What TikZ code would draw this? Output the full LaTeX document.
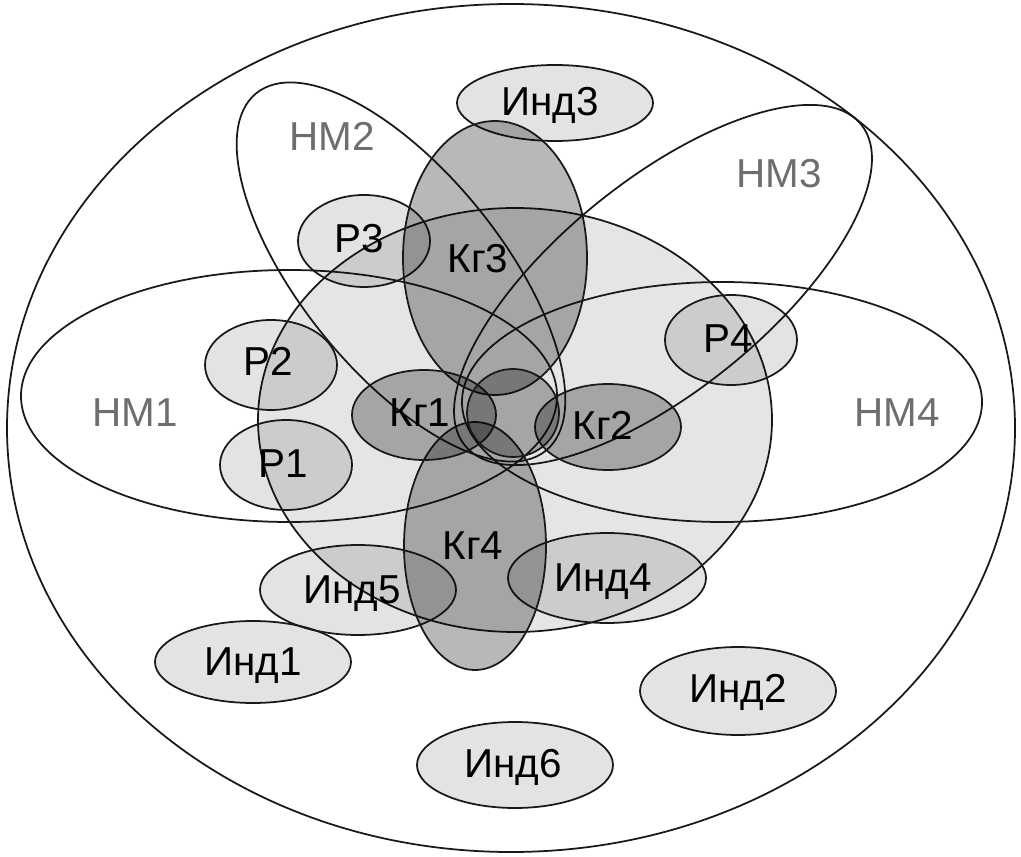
\documentclass[tikz,border=0pt]{standalone}
\usepackage{fontspec}
\newfontfamily\setfont{Liberation Sans}
\begin{document}
\begin{tikzpicture}[x=0.02cm, y=-0.02cm,
    rim/.style={draw=black!90, line width=1pt},
    pale/.style={rim, fill=black, fill opacity=0.11},
    deep/.style={rim, fill=black, fill opacity=0.28},
    lbl/.style={font=\setfont\fontsize{23}{27}\selectfont, inner sep=0pt,
      text height=0.716em, text depth=0pt},
    hm/.style={lbl, text=black!57}]
  \useasboundingbox (0,0) rectangle (1021,857);
  \draw[rim] (511,428) ellipse [x radius=504, y radius=424];
  \draw[rim, fill=black, fill opacity=0.1] (515,420) ellipse [x radius=257, y radius=212];
  % HM sets
  \draw[rim] (289,396) ellipse [x radius=268, y radius=126];
  \draw[rim] (722,402) ellipse [x radius=260, y radius=120];
  \draw[rim, rotate around={-51:(401,272)}] (401,272) ellipse [x radius=230, y radius=100];
  \draw[rim, rotate around={39:(663,285)}] (663,285) ellipse [x radius=255, y radius=105];
  % P and Ind sets
  \draw[pale] (555,103) ellipse [x radius=98, y radius=38];
  \draw[pale] (364,241) ellipse [x radius=66, y radius=46];
  \draw[pale] (271,365) ellipse [x radius=66, y radius=45];
  \draw[pale] (286,465) ellipse [x radius=66, y radius=45];
  \draw[pale] (731,340) ellipse [x radius=66, y radius=45];
  \draw[pale] (358,590) ellipse [x radius=98, y radius=45];
  \draw[pale] (607,578) ellipse [x radius=99, y radius=45];
  \draw[pale] (253,662) ellipse [x radius=98, y radius=41];
  \draw[pale] (738,691) ellipse [x radius=98, y radius=44];
  \draw[pale] (515,765) ellipse [x radius=98, y radius=43];
  % Kg sets
  \draw[deep] (495,258) ellipse [x radius=92, y radius=137];
  \draw[deep] (475,546) ellipse [x radius=71, y radius=124];
  \draw[deep] (424,415) ellipse [x radius=72, y radius=45];
  \draw[deep] (608,427) ellipse [x radius=73, y radius=43];
  \draw[deep] (513,413) ellipse [x radius=46, y radius=44];
  % labels
  \node[hm] (hm1) at (135,420) {НМ1};
  \node[hm] (hm2) at (332,144) {НМ2};
  \node[hm] (hm3) at (779,181) {НМ3};
  \node[hm] (hm4) at (897,420) {НМ4};
  \node[lbl] (r1) at (283,471) {Р1};
  \node[lbl] (r2) at (268,369) {Р2};
  \node[lbl] (r3) at (359,246) {Р3};
  \node[lbl] (r4) at (728,346) {Р4};
  \node[lbl] (kg1) at (420,420) {Кг1};
  \node[lbl] (kg2) at (603,433) {Кг2};
  \node[lbl] (kg3) at (478,266) {Кг3};
  \node[lbl] (kg4) at (473,553) {Кг4};
  \node[lbl] (ind1) at (253,669) {Инд1};
  \node[lbl] (ind2) at (738,696) {Инд2};
  \node[lbl] (ind3) at (550,109) {Инд3};
  \node[lbl] (ind4) at (603,585) {Инд4};
  \node[lbl] (ind5) at (352,597) {Инд5};
  \node[lbl] (ind6) at (513,771) {Инд6};
\end{tikzpicture}
\end{document}
